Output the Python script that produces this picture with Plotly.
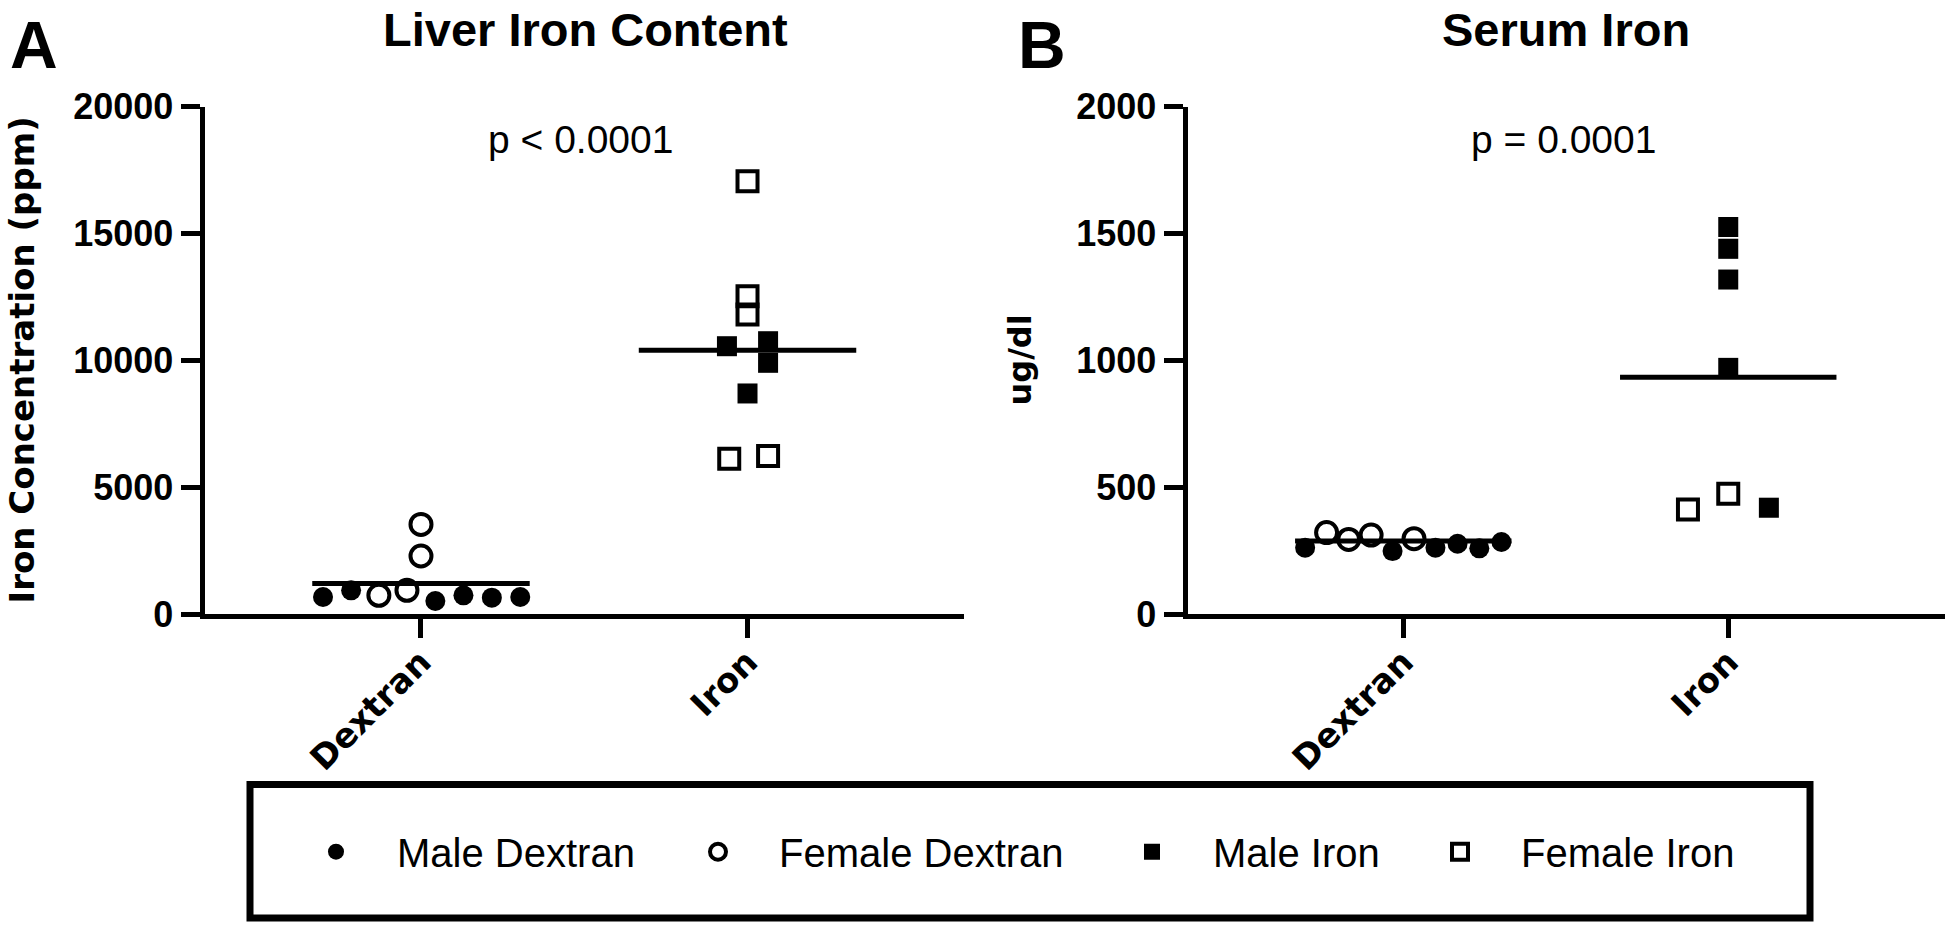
import plotly.graph_objects as go

# ---------------- data ----------------
categories = ["Dextran", "Iron"]
group_names = ["Male Dextran", "Female Dextran", "Male Iron", "Female Iron"]

# Panel A: Liver iron content (ppm)
liver_male_dextran = [682, 945, 524, 748, 657, 682]
liver_male_dextran_jitter = [-0.300, -0.214, 0.044, 0.130, 0.217, 0.304]
liver_female_dextran = [748, 945, 2297, 3543]
liver_female_dextran_jitter = [-0.129, -0.043, 0.0, 0.0]
liver_male_iron = [10563, 10760, 9909, 8701]
liver_male_iron_jitter = [-0.063, 0.063, 0.063, 0.0]
liver_female_iron = [17060, 12531, 11811, 6130, 6233]
liver_female_iron_jitter = [0.0, 0.0, 0.0, -0.056, 0.063]
liver_means = [1209, 10406]
liver_yticks = [0, 5000, 10000, 15000, 20000]
liver_yticklabels = ["0", "5000", "10000", "15000", "20000"]

# Panel B: Serum iron (ug/dl)
serum_male_dextran = [262, 249, 262, 278, 260, 285]
serum_male_dextran_jitter = [-0.302, -0.033, 0.099, 0.167, 0.234, 0.302]
serum_female_dextran = [322, 295, 312, 298]
serum_female_dextran_jitter = [-0.236, -0.168, -0.099, 0.033]
serum_male_iron = [1526, 1440, 1319, 971, 420]
serum_male_iron_jitter = [0.0, 0.0, 0.0, 0.0, 0.125]
serum_female_iron = [413, 475]
serum_female_iron_jitter = [-0.124, 0.0]
serum_means = [289, 934]
serum_yticks = [0, 500, 1000, 1500, 2000]
serum_yticklabels = ["0", "500", "1000", "1500", "2000"]

p_texts = ["p &lt; 0.0001", "p = 0.0001"]
panel_titles = ["Liver Iron Content", "Serum Iron"]
panel_letters = ["A", "B"]
y_titles = ["Iron Concentration (ppm)", "ug/dl"]

# ---------------- styling ----------------
W, H = 1950, 926
BLACK = "black"
TICK_FONT = "Liberation Sans"
ROUND_FONT = "DejaVu Sans"

styles = {
    "Male Dextran": dict(symbol="circle", size=20, line=dict(width=0, color=BLACK)),
    "Female Dextran": dict(symbol="circle-open", size=21, line=dict(width=4, color=BLACK)),
    "Male Iron": dict(symbol="square", size=20, line=dict(width=0, color=BLACK)),
    "Female Iron": dict(symbol="square-open", size=20, line=dict(width=4, color=BLACK)),
}
legend_ids = ["legend", "legend2", "legend3", "legend4"]

fig = go.Figure()


def px_x(v):
    return v / W


def px_y(v):
    return 1 - v / H


panels = [
    dict(
        xa="x", ya="y",
        groups=[
            (liver_male_dextran, liver_male_dextran_jitter, 0),
            (liver_female_dextran, liver_female_dextran_jitter, 0),
            (liver_male_iron, liver_male_iron_jitter, 1),
            (liver_female_iron, liver_female_iron_jitter, 1),
        ],
        means=liver_means,
    ),
    dict(
        xa="x2", ya="y2",
        groups=[
            (serum_male_dextran, serum_male_dextran_jitter, 0),
            (serum_female_dextran, serum_female_dextran_jitter, 0),
            (serum_male_iron, serum_male_iron_jitter, 1),
            (serum_female_iron, serum_female_iron_jitter, 1),
        ],
        means=serum_means,
    ),
]

for pi, panel in enumerate(panels):
    # mean lines
    for ci, m in enumerate(panel["means"]):
        fig.add_trace(go.Scatter(
            x=[ci - 0.333, ci + 0.333], y=[m, m], mode="lines",
            line=dict(color=BLACK, width=5), showlegend=False, hoverinfo="skip",
            xaxis=panel["xa"], yaxis=panel["ya"],
        ))
    for gi, (vals, jit, ci) in enumerate(panel["groups"]):
        name = group_names[gi]
        st = styles[name]
        fig.add_trace(go.Scatter(
            x=[ci + j for j in jit], y=vals, mode="markers", name=name,
            legendgroup=name, showlegend=(pi == 0), legend=legend_ids[gi],
            marker=dict(symbol=st["symbol"], size=st["size"], color=BLACK, line=st["line"]),
            xaxis=panel["xa"], yaxis=panel["ya"],
        ))

y_dom = [px_y(614.3), px_y(106.7)]
axis_common = dict(
    showline=True, linewidth=5, linecolor=BLACK, ticks="outside", ticklen=19,
    tickwidth=5, tickcolor=BLACK, showgrid=False, zeroline=False, automargin=False,
)
xtick_font = dict(family=ROUND_FONT, size=34, weight="bold")
ytick_font = dict(family=TICK_FONT, size=36, weight="bold")

fig.update_layout(
    width=W, height=H, margin=dict(l=0, r=0, t=0, b=0, autoexpand=False),
    paper_bgcolor="white", plot_bgcolor="white",
    font=dict(family=TICK_FONT, color=BLACK),
    xaxis=dict(domain=[px_x(204.5), px_x(964)], range=[-0.663, 1.663],
               tickvals=[0, 1], ticktext=categories, tickangle=-45,
               tickfont=xtick_font, ticklabelstandoff=-10,
               anchor="y", **axis_common),
    yaxis=dict(domain=y_dom, range=[0, 20000], tickvals=liver_yticks,
               ticktext=liver_yticklabels, tickfont=ytick_font,
               anchor="x", **axis_common),
    xaxis2=dict(domain=[px_x(1187.5), px_x(1945)], range=[-0.664, 1.667],
                tickvals=[0, 1], ticktext=categories, tickangle=-45,
                tickfont=xtick_font, ticklabelstandoff=-10,
                anchor="y2", **axis_common),
    yaxis2=dict(domain=y_dom, range=[0, 2000], tickvals=serum_yticks,
                ticktext=serum_yticklabels, tickfont=ytick_font,
                anchor="x2", **axis_common),
)

# legends: one per group so the entries sit where the reference puts them
legend_marker_x = [336, 718, 1152, 1460]
for lid, mx in zip(legend_ids, legend_marker_x):
    fig.update_layout({lid: dict(
        x=px_x(mx - 61), xanchor="left", y=px_y(851.7), yanchor="middle",
        orientation="h", bgcolor="rgba(0,0,0,0)", borderwidth=0,
        itemwidth=112, font=dict(family=TICK_FONT, size=40, color=BLACK),
    )})

# legend frame
fig.add_shape(type="rect", xref="paper", yref="paper",
              x0=px_x(250), x1=px_x(1810), y0=px_y(918), y1=px_y(784.5),
              line=dict(color=BLACK, width=7), fillcolor="rgba(0,0,0,0)")

ann = []
title_x = [585, 1566]
p_x = [580, 1563]
letter_x = [33.5, 1041.5]
ytitle_x = [21, 1019]
ytitle_size = [34, 32]
for i in range(2):
    ann.append(dict(text=panel_titles[i], x=px_x(title_x[i]), y=px_y(30),
                    xref="paper", yref="paper", showarrow=False,
                    xanchor="center", yanchor="middle",
                    font=dict(family=TICK_FONT, size=47, weight="bold")))
    ann.append(dict(text=panel_letters[i], x=px_x(letter_x[i]), y=px_y(45),
                    xref="paper", yref="paper", showarrow=False,
                    xanchor="center", yanchor="middle",
                    font=dict(family=TICK_FONT, size=66, weight="bold")))
    ann.append(dict(text=p_texts[i], x=px_x(p_x[i]), y=px_y(139.5),
                    xref="paper", yref="paper", showarrow=False,
                    xanchor="center", yanchor="middle",
                    font=dict(family=TICK_FONT, size=39)))
    ann.append(dict(text=y_titles[i], x=px_x(ytitle_x[i]), y=px_y(360.5),
                    xref="paper", yref="paper", showarrow=False, textangle=-90,
                    xanchor="center", yanchor="middle",
                    font=dict(family=ROUND_FONT, size=ytitle_size[i], weight="bold")))
fig.update_layout(annotations=ann)

fig.write_html("out.html", config={"displayModeBar": False},
               post_script="document.body.style.margin = '0px';")
